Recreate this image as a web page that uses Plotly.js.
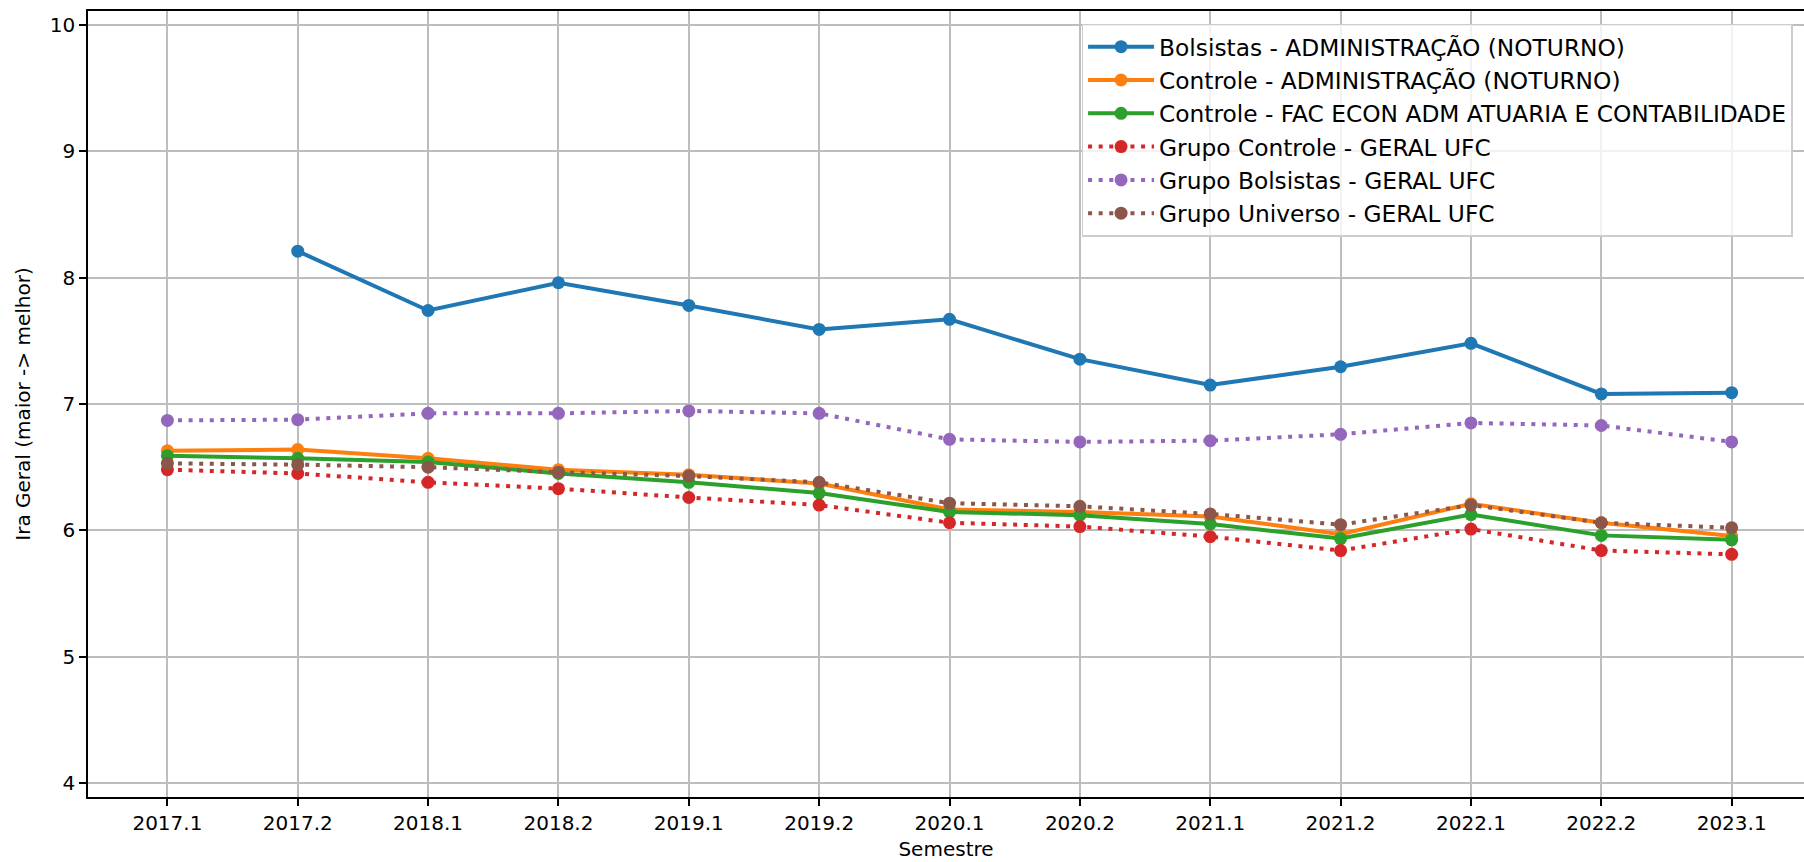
<!DOCTYPE html>
<html>
<head>
<meta charset="utf-8">
<script src="https://cdn.plot.ly/plotly-3.0.1.min.js"></script>
<style>html,body{margin:0;padding:0;background:#fff;}#chart{width:1804px;height:862px;}</style>
</head>
<body>
<div id="chart"></div>
<script>
const semestres = ["2017.1","2017.2","2018.1","2018.2","2019.1","2019.2","2020.1","2020.2","2021.1","2021.2","2022.1","2022.2","2023.1"];

const bolsistasAdm = [null, 8.21, 7.74, 7.96, 7.78, 7.59, 7.67, 7.355, 7.15, 7.295, 7.48, 7.08, 7.09];
const controleAdm = [6.63, 6.64, 6.57, 6.48, 6.44, 6.37, 6.165, 6.145, 6.11, 5.97, 6.21, 6.06, 5.955];
const controleFac = [6.59, 6.57, 6.54, 6.45, 6.38, 6.295, 6.145, 6.12, 6.05, 5.935, 6.125, 5.96, 5.925];
const grupoControle = [6.48, 6.45, 6.38, 6.33, 6.26, 6.20, 6.06, 6.03, 5.95, 5.84, 6.01, 5.84, 5.81];
const grupoBolsistas = [6.87, 6.876, 6.926, 6.926, 6.945, 6.926, 6.72, 6.70, 6.71, 6.76, 6.85, 6.83, 6.70];
const grupoUniverso = [6.53, 6.52, 6.50, 6.46, 6.43, 6.38, 6.215, 6.19, 6.13, 6.045, 6.20, 6.06, 6.02];

const seriesNames = [
  "Bolsistas - ADMINISTRAÇÃO (NOTURNO)",
  "Controle - ADMINISTRAÇÃO (NOTURNO)",
  "Controle - FAC ECON ADM ATUARIA E CONTABILIDADE",
  "Grupo Controle - GERAL UFC",
  "Grupo Bolsistas - GERAL UFC",
  "Grupo Universo - GERAL UFC"
];
const seriesValues = [bolsistasAdm, controleAdm, controleFac, grupoControle, grupoBolsistas, grupoUniverso];
const seriesColors = ["#1f77b4", "#ff7f0e", "#2ca02c", "#d62728", "#9467bd", "#8c564b"];
const seriesDash = ["solid", "solid", "solid", "4px,6.6px", "4px,6.6px", "4px,6.6px"];

const traces = seriesNames.map((name, i) => ({
  type: "scatter",
  mode: "lines+markers",
  name: name,
  x: semestres,
  y: seriesValues[i],
  connectgaps: false,
  line: {color: seriesColors[i], width: 4, dash: seriesDash[i]},
  marker: {color: seriesColors[i], size: 13}
}));

const font = {family: "DejaVu Sans, sans-serif", size: 20, color: "#000"};
const legendFont = {family: "DejaVu Sans, sans-serif", size: 23.3, color: "#000"};

const layout = {
  width: 1804,
  height: 862,
  margin: {l: 88.3, r: 0, t: 11, b: 64.7, pad: 0},
  paper_bgcolor: "#fff",
  plot_bgcolor: "#fff",
  font: font,
  showlegend: true,
  xaxis: {
    type: "category",
    categoryorder: "array",
    categoryarray: semestres,
    range: [-0.609, 12.555],
    showgrid: true,
    gridcolor: "#bdbdbd",
    gridwidth: 1.5,
    showline: true,
    linecolor: "#000",
    linewidth: 1.6,
    mirror: true,
    ticks: "outside",
    ticklen: 7,
    tickwidth: 1.6,
    tickcolor: "#000",
    tickfont: font,
    zeroline: false,
    automargin: false,
    title: {text: "Semestre", font: font, standoff: 8}
  },
  yaxis: {
    range: [3.889, 10.111],
    tickvals: [4, 5, 6, 7, 8, 9, 10],
    ticktext: ["4", "5", "6", "7", "8", "9", "10"],
    showgrid: true,
    gridcolor: "#bdbdbd",
    gridwidth: 1.5,
    showline: true,
    linecolor: "#000",
    linewidth: 1.6,
    mirror: false,
    ticks: "outside",
    ticklen: 7,
    tickwidth: 1.6,
    tickcolor: "#000",
    tickfont: font,
    zeroline: false,
    automargin: false,
    title: {text: "Ira Geral (maior -> melhor)", font: font, standoff: 14}
  },
  legend: {
    x: 0.579,
    y: 0.984,
    xanchor: "left",
    yanchor: "top",
    bgcolor: "rgba(255,255,255,0.8)",
    bordercolor: "#cccccc",
    borderwidth: 1.5,
    font: legendFont,
    itemwidth: 66,
    traceorder: "normal"
  }
};

Plotly.newPlot("chart", traces, layout, {displayModeBar: false, responsive: false});
</script>
</body>
</html>
